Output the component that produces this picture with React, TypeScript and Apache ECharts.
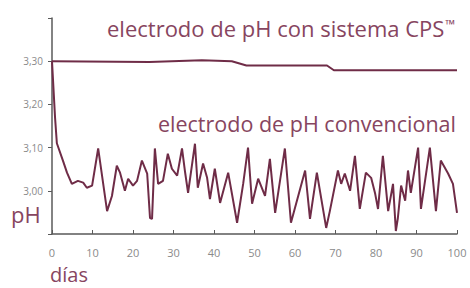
import React, { useEffect, useRef } from "react";
import * as echarts from "echarts";

const xTicks = [0, 10, 20, 30, 40, 50, 60, 70, 80, 90, 100];
const yTickLabels = ["3,00", "3,10", "3,20", "3,30"];

const cpsDays = [0, 24, 37, 44.4, 48, 67.9, 69.6, 100];
const cpsPH = [3.3, 3.298, 3.302, 3.3, 3.29, 3.29, 3.279, 3.279];

const convDays = [
  0, 0.75, 1.2, 2.7, 3.7, 4.9, 6.4, 7.7, 8.6, 9.9, 11.4, 13.6, 14.8, 16.0, 16.8, 18.0,
  18.8, 20.0, 21.0, 22.2, 23.5, 24.2, 24.7, 25.4, 26.2, 27.4, 28.6, 29.6, 30.9, 32.1,
  32.8, 33.6, 35.3, 36.0, 37.3, 38.3, 39.0, 40.2, 41.5, 43.5, 45.7, 47.2, 48.4, 49.4,
  50.9, 52.6, 53.8, 55.1, 57.5, 59.0, 62.5, 63.7, 65.4, 67.7, 68.6, 70.6, 71.4, 72.3,
  73.6, 74.8, 76.0, 77.5, 78.8, 79.8, 80.5, 81.7, 83.0, 84.2, 84.9, 85.4, 86.2, 87.2,
  87.9, 88.6, 90.4, 91.1, 93.3, 94.8, 96.0, 97.8, 99.0, 100,
];
const convPH = [
  3.3, 3.17, 3.11, 3.07, 3.042, 3.016, 3.023, 3.019, 3.007, 3.012, 3.098, 2.953, 2.988,
  3.058, 3.042, 3.0, 3.028, 3.012, 3.023, 3.07, 3.04, 2.937, 2.935, 3.098, 3.016, 3.023,
  3.086, 3.051, 3.035, 3.098, 3.047, 2.995, 3.109, 3.007, 3.063, 3.03, 2.981, 3.051,
  2.972, 3.042, 2.926, 3.016, 3.1, 2.97, 3.028, 2.988, 3.074, 2.949, 3.098, 2.926,
  3.047, 2.935, 3.042, 2.914, 2.953, 3.047, 3.016, 3.04, 3.0, 3.081, 2.958, 3.042, 3.03,
  2.993, 2.958, 3.081, 2.953, 3.016, 2.907, 2.937, 3.012, 2.977, 3.047, 2.995, 3.1,
  2.958, 3.1, 2.953, 3.07, 3.04, 3.016, 2.949,
];

const LINE = "#6f2c47";
const TEXT = "#874560";
const AXIS = "#5a5a5a";
const TICKTXT = "#8a8a8a";
const FONT = "'Open Sans', 'Noto Sans', sans-serif";

export default function App() {
  const ref = useRef<HTMLDivElement>(null);
  useEffect(() => {
    if (!ref.current) return;
    const chart = echarts.init(ref.current, null, { renderer: "svg" });
    const labelFor = (v: number) => {
      const i = Math.round((v - 3.0) * 10);
      return i >= 0 && i < yTickLabels.length ? yTickLabels[i] : "";
    };
    chart.setOption({
      animation: false,
      backgroundColor: "#ffffff",
      grid: { left: 52, right: 13, top: 18, bottom: 54 },
      xAxis: {
        type: "value",
        min: 0,
        max: 100,
        interval: 10,
        splitLine: { show: false },
        axisLine: { lineStyle: { color: AXIS, width: 1.5 } },
        axisTick: { show: true, inside: true, length: 4, lineStyle: { color: AXIS } },
        axisLabel: {
          color: TICKTXT,
          fontSize: 11,
          fontFamily: FONT,
          margin: 13,
          formatter: (v: number) => (xTicks.includes(v) ? String(v) : ""),
        },
      },
      yAxis: {
        type: "value",
        min: 2.9,
        max: 3.4,
        interval: 0.1,
        splitLine: { show: false },
        axisLine: { show: true, lineStyle: { color: AXIS, width: 1.5 } },
        axisTick: { show: true, length: 4, lineStyle: { color: AXIS } },
        axisLabel: {
          color: TICKTXT,
          fontSize: 10,
          fontFamily: FONT,
          margin: 9,
          formatter: labelFor,
        },
      },
      graphic: [
        {
          type: "text",
          left: 107,
          top: 17,
          style: {
            text: "electrodo de pH con sistema CPS{tm|™}",
            fill: TEXT,
            fontSize: 22,
            fontFamily: FONT,
            rich: {
              tm: { fontSize: 13, fill: TEXT, fontFamily: FONT, verticalAlign: "top", padding: [0, 0, 8, 1] },
            },
          },
        },
        {
          type: "text",
          left: 158,
          top: 112,
          style: {
            text: "electrodo de pH convencional",
            fill: TEXT,
            fontSize: 21.5,
            fontFamily: FONT,
          },
        },
        {
          type: "text",
          left: 11,
          top: 203,
          style: { text: "pH", fill: TEXT, fontSize: 22, fontFamily: FONT },
        },
        {
          type: "text",
          left: 50,
          top: 264,
          style: { text: "días", fill: TEXT, fontSize: 20, fontFamily: FONT },
        },
      ],
      series: [
        {
          type: "line",
          data: cpsDays.map((d, i) => [d, cpsPH[i]]),
          symbol: "none",
          lineStyle: { color: LINE, width: 2 },
        },
        {
          type: "line",
          data: convDays.map((d, i) => [d, convPH[i]]),
          symbol: "none",
          lineStyle: { color: LINE, width: 2 },
        },
      ],
    });
    return () => chart.dispose();
  }, []);
  return <div ref={ref} style={{ width: 470, height: 288, position: "absolute", left: 0, top: 0 }} />;
}
